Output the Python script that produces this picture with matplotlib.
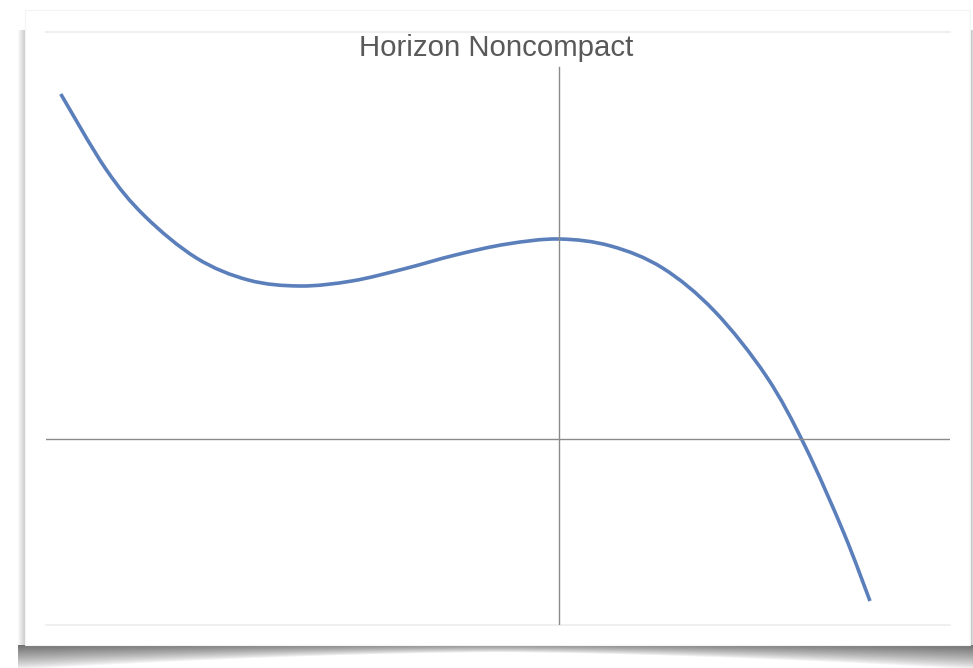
#!/usr/bin/env python3
"""Horizon Noncompact: cubic-shaped curve on a card with drop shadow."""

import matplotlib
import numpy as np

matplotlib.use('Agg')
import matplotlib.pyplot as plt
from matplotlib.patches import PathPatch, Rectangle
from matplotlib.path import Path

plt.rcParams['font.family'] = ['Liberation Sans', 'DejaVu Sans']

# Data
x_vals = [-1.924, -1.75, -1.6, -1.4, -1.2, -1.0, -0.8, -0.6, -0.4, -0.2,
          0.0, 0.2, 0.4, 0.6, 0.8, 0.95, 1.1, 1.201]
y_vals = [3.45, 2.70, 2.23, 1.81, 1.59, 1.53, 1.58, 1.70, 1.84, 1.95,
          2.00, 1.93, 1.71, 1.28, 0.63, -0.07, -0.94, -1.62]
title = "Horizon Noncompact"


def smooth_path(xs, ys):
    """Excel-style smoothed line: Catmull-Rom segments as cubic Beziers."""
    pts = np.column_stack([xs, ys])
    n = len(pts)
    verts = [pts[0]]
    codes = [Path.MOVETO]
    for i in range(n - 1):
        p0 = pts[max(i - 1, 0)]
        p1, p2 = pts[i], pts[i + 1]
        p3 = pts[min(i + 2, n - 1)]
        c1 = p1 + (p2 - p0) / 6
        c2 = p2 - (p3 - p1) / 6
        verts += [c1, c2, p2]
        codes += [Path.CURVE4] * 3
    return Path(verts, codes)


W, H = 973, 668
fig = plt.figure(figsize=(W / 100, H / 100), dpi=100)
fig.patch.set_facecolor('white')

# ── Background: card with curled shadow ───────────────────────────────
bg = fig.add_axes([0, 0, 1, 1])
bg.set_xlim(0, W)
bg.set_ylim(H, 0)
bg.axis('off')

card_l, card_r, card_t, card_b = 25, 970, 10, 645
img = np.ones((H, W))
xs = np.arange(W)
# bottom shadow: thin in the middle, thicker at both ends
u = (xs - (card_l + card_r) / 2) / ((card_r - card_l) / 2)
thick = 7 + 17 * np.clip(np.abs(u), 0, 1) ** 1.6
dark = 0.45 + 0.12 * (1 - np.abs(u))
mask = (xs >= card_l - 7) & (xs <= card_r + 3)
for yy in range(card_b, H):
    d = yy - card_b
    f = np.clip(1 - d / thick, 0, 1) ** 0.8
    row = 1 - (1 - dark) * f
    img[yy, mask] = np.minimum(img[yy, mask], row[mask])
# left and right edge shadow
for xx in range(card_l - 8, card_l):
    f = (xx - (card_l - 8)) / 8
    img[card_t + 20:card_b, xx] = np.minimum(img[card_t + 20:card_b, xx], 1 - 0.22 * f)
for xx in range(card_r, W):
    f = 1 - (xx - card_r) / 4
    img[card_t + 20:card_b, xx] = np.minimum(img[card_t + 20:card_b, xx], 1 - 0.3 * f)
bg.imshow(img, cmap='gray', vmin=0, vmax=1, extent=(0, W, H, 0),
          interpolation='bilinear', aspect='auto')
bg.add_patch(Rectangle((card_l, card_t), card_r - card_l, card_b - card_t,
                       facecolor='white', edgecolor='#f4f4f4', linewidth=0.8))

# ── Plot area ─────────────────────────────────────────────────────────
left, right, top, bottom = 46, 950, 32, 625
ax = fig.add_axes([left / W, 1 - bottom / H, (right - left) / W, (bottom - top) / H])
ax.patch.set_alpha(0)
ax.set_xlim(-1.981, 1.510)
ax.set_ylim(-1.86, 4.07)
for s in ax.spines.values():
    s.set_visible(False)
ax.set_xticks([])
ax.set_yticks([])

ax.axhline(4.07, color='#ececec', lw=1.2, clip_on=False)
ax.axhline(-1.86, color='#ececec', lw=1.2, clip_on=False)
ax.axhline(0, color='#8a8a8a', lw=1.0)
ax.plot([0, 0], [-1.86, 3.72], color='#8a8a8a', lw=1.0)

ax.add_patch(PathPatch(smooth_path(x_vals, y_vals), facecolor='none',
                       edgecolor='#5b7fbb', lw=2.6, capstyle='butt',
                       joinstyle='round'))

fig.text(496.5 / W, 1 - 56 / H, title, ha='center', va='baseline',
         fontsize=21.2, color='#595959')

fig.savefig('out.png', dpi=100)
plt.close(fig)
